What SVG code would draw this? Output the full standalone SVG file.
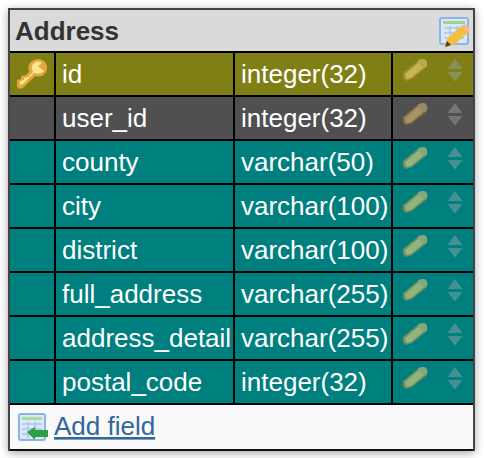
<svg xmlns="http://www.w3.org/2000/svg" width="484" height="458" viewBox="0 0 484 458">
<style>
text{font-family:"Liberation Sans",Arial,sans-serif;font-size:26px}
.c{fill:#fff}
.t{fill:#333;font-weight:bold}
.l{fill:#336699;text-decoration:underline}
.g{fill:#000}
</style>
<defs>
<filter id="sh" x="-10%" y="-10%" width="120%" height="120%"><feGaussianBlur stdDeviation="5"/></filter>
<filter id="soft" x="-10%" y="-10%" width="120%" height="120%"><feGaussianBlur stdDeviation="0.6"/></filter>
<g id="pencil" filter="url(#soft)">
<path d="M403 73 L419 60 Q423 58 426 60 Q428 63 427 67 L412 79 L406 81 Q402 79 403 73Z" fill="#c9923f"/>
<path d="M405 74 L419 62 L424 67 L411 78 L406 79Z" fill="#f0dc80"/>
<path d="M419 60 Q423 58 426 60 Q428 63 427 66 L424 68 L417 62Z" fill="#dfc07a"/>
</g>
<g id="arrows" fill="#9aa6a6">
<path d="M455 59 L462.500 69 H447.500Z"/>
<path d="M447.500 72 H462.500 L455 81.500Z"/>
</g>
</defs>
<rect x="8" y="10" width="467" height="443" fill="#000" opacity="0.35" filter="url(#sh)"/>
<g id="table">
<rect x="9" y="9" width="465" height="441" fill="#f9f9f9" stroke="#444" stroke-width="2"/>
<g id="header">
<rect x="10" y="10" width="463" height="41" fill="#dadada"/>
<text class="t" x="15" y="40">Address</text>
<g id="edit-icon" filter="url(#soft)">
<rect x="440" y="18" width="28" height="26" rx="2" fill="#dbe8f8" stroke="#8cb4e8" stroke-width="2"/>
<rect x="443" y="21" width="22" height="3" fill="#9fd68f"/>
<path d="M444 28H464M444 33H464M444 38H464M450 26V42M457 26V42" stroke="#a9c5ec" stroke-width="1.500" fill="none"/>
<path d="M445 45 L447 39 L461 26 L469 32 L455 44 L447 47Z" fill="#f0c040"/>
<path d="M461 26 L465 24 L469 27 L469 32Z" fill="#f2b79b"/>
<path d="M445 47 L447 41 L451 45Z" fill="#5a3a20"/>
</g>
</g>
<rect x="10" y="51" width="463" height="2" class="g"/>
<g id="row-id">
<rect x="10" y="53" width="463" height="42" fill="#7f7f15"/>
<text class="c" x="62" y="83">id</text><text class="c" x="241" y="83">integer(32)</text>
<g id="key" filter="url(#soft)">
<path d="M17 87 L17 80 L21 79 L21 76 L26 75 L29 72 Q27 65 32 61 Q38 57 44 61 Q49 66 46 72 Q42 78 35 76 L24 87 L20 89Z" fill="#e0a83c"/>
<path d="M20 85 L20 81 L24 80 L24 78 L28 77 L33 72 Q30 66 34 63 Q38 60 42 63 L38 66 L44 71 Q41 75 34 73 L23 84Z" fill="#fbe58c"/>
</g>
<use href="#pencil" opacity="0.6"/><use href="#arrows" opacity="0.45"/>
</g>
<rect x="10" y="95" width="463" height="2" class="g"/>
<g id="row-user_id">
<rect x="10" y="97" width="463" height="42" fill="#505050"/>
<text class="c" x="62" y="127">user_id</text><text class="c" x="241" y="127">integer(32)</text>
<use href="#pencil" y="44" opacity="0.5"/><use href="#arrows" y="44" opacity="0.45"/>
</g>
<rect x="10" y="139" width="463" height="2" class="g"/>
<g id="row-county">
<rect x="10" y="141" width="463" height="42" fill="#007f7f"/>
<text class="c" x="62" y="171">county</text><text class="c" x="241" y="171">varchar(50)</text>
<use href="#pencil" y="88" opacity="0.6"/><use href="#arrows" y="88" opacity="0.45"/>
</g>
<rect x="10" y="183" width="463" height="2" class="g"/>
<g id="row-city">
<rect x="10" y="185" width="463" height="42" fill="#007f7f"/>
<text class="c" x="62" y="215">city</text><text class="c" x="241" y="215">varchar(100)</text>
<use href="#pencil" y="132" opacity="0.6"/><use href="#arrows" y="132" opacity="0.45"/>
</g>
<rect x="10" y="227" width="463" height="2" class="g"/>
<g id="row-district">
<rect x="10" y="229" width="463" height="42" fill="#007f7f"/>
<text class="c" x="62" y="259">district</text><text class="c" x="241" y="259">varchar(100)</text>
<use href="#pencil" y="176" opacity="0.6"/><use href="#arrows" y="176" opacity="0.45"/>
</g>
<rect x="10" y="271" width="463" height="2" class="g"/>
<g id="row-full_address">
<rect x="10" y="273" width="463" height="42" fill="#007f7f"/>
<text class="c" x="62" y="303">full_address</text><text class="c" x="241" y="303">varchar(255)</text>
<use href="#pencil" y="220" opacity="0.6"/><use href="#arrows" y="220" opacity="0.45"/>
</g>
<rect x="10" y="315" width="463" height="2" class="g"/>
<g id="row-address_detail">
<rect x="10" y="317" width="463" height="42" fill="#007f7f"/>
<text class="c" x="62" y="347">address_detail</text><text class="c" x="241" y="347">varchar(255)</text>
<use href="#pencil" y="264" opacity="0.6"/><use href="#arrows" y="264" opacity="0.45"/>
</g>
<rect x="10" y="359" width="463" height="2" class="g"/>
<g id="row-postal_code">
<rect x="10" y="361" width="463" height="42" fill="#007f7f"/>
<text class="c" x="62" y="391">postal_code</text><text class="c" x="241" y="391">integer(32)</text>
<use href="#pencil" y="308" opacity="0.6"/><use href="#arrows" y="308" opacity="0.45"/>
</g>
<rect x="10" y="403" width="463" height="2" class="g"/>
<path d="M55 53V403M234 53V403M392 53V403" stroke="#000" stroke-width="2" fill="none"/>
<g id="add-field">
<g filter="url(#soft)">
<rect x="19" y="414" width="26" height="26" rx="2" fill="#dbe8f8" stroke="#8cb4e8" stroke-width="2"/>
<rect x="22" y="417" width="20" height="3" fill="#a9dd98"/>
<path d="M22 424H42M22 429H42M22 434H42M28 422V438M35 422V438" stroke="#a9c5ec" stroke-width="1.500" fill="none"/>
<path d="M27 432 L35 427 V430 H48 V437 H35 V440Z" fill="#2f9e44"/>
</g>
<text class="l" x="54" y="435">Add field</text>
</g>
<rect x="10" y="449" width="463" height="2" fill="#111"/>
</g>
</svg>
